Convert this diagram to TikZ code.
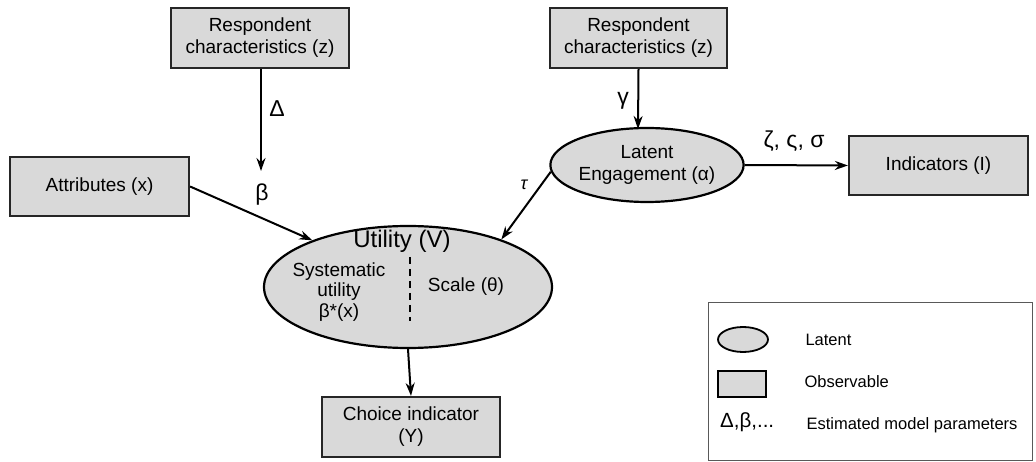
\documentclass[tikz,border=0pt]{standalone}
\usepackage{fontspec}
\setmainfont{Liberation Sans}
\usetikzlibrary{shapes.geometric,arrows.meta}
\definecolor{boxgray}{HTML}{D9D9D9}
\begin{document}
\begin{tikzpicture}[x=1pt,y=-1pt,
  obs/.style={draw=black!85,line width=2.2pt,fill=boxgray,rectangle,inner sep=0pt,align=center,font=\fontsize{19}{22}\selectfont},
  lat/.style={draw=black,line width=2.2pt,fill=boxgray,ellipse,inner sep=0pt,align=center,font=\fontsize{19}{22}\selectfont},
  conn/.style={line width=2pt,-{Stealth[length=13pt,width=9pt]}},
  param/.style={font=\fontsize{23}{26}\selectfont},
  legtext/.style={font=\fontsize{16.5}{19}\selectfont,anchor=west}]
\useasboundingbox (0,0) rectangle (1036,462);
% nodes
\node[obs,minimum width=178pt,minimum height=60pt] (rz1) at (260,38) {Respondent\\characteristics (z)};
\node[obs,minimum width=179pt,minimum height=59pt] (attr) at (99.5,186.5) {Attributes (x)};
\node[obs,minimum width=177pt,minimum height=60pt] (rz2) at (638.5,38) {Respondent\\characteristics (z)};
\node[lat,minimum width=190pt,minimum height=74pt] (eng) at (647,165) {Latent\\Engagement (α)};
\node[obs,minimum width=179pt,minimum height=59pt] (ind) at (938.5,165.5) {Indicators (I)};
\node[lat,minimum width=288pt,minimum height=122pt] (util) at (408,287) {};
\node[obs,minimum width=178pt,minimum height=60pt] (choice) at (411,427) {Choice indicator\\(Y)};
% utility internals
\node[font=\fontsize{24}{27}\selectfont] (utitle) at (402,241) {Utility (V)};
\node[align=center,font=\fontsize{19}{20.5}\selectfont] (sys) at (339,292) {Systematic\\utility\\β*(x)};
\node[font=\fontsize{19}{22}\selectfont] (scale) at (466,287) {Scale (θ)};
\coordinate (d1) at (410,257);
\coordinate (d2) at (410,321);
\draw[line width=1.8pt,dash pattern=on 7pt off 5pt] (d1) -- (d2);
% connectors
\coordinate (delend) at (261,171);
\draw[conn] (rz1.south -| delend) -- (delend);
\node[param] (del) at (277,109) {Δ};
\node[param] (bet) at (262,195) {β};
\draw[conn] (attr.east) -- (util.154);
\coordinate (gamend) at (638,129);
\draw[conn] (rz2.south) -- (gamend);
\node[param] (gam) at (623,101) {γ};
\draw[conn] (eng.east) -- (ind.west);
\node[param] (zss) at (794,141) {ζ, ς, σ};
\draw[conn] (eng.184) -- (util.27);
\node[font=\itshape\fontsize{18}{20}\selectfont] (tau) at (524,185) {τ};
\draw[conn] (util.south) -- (choice.north);
% legend
\node[draw=black!65,line width=1pt,rectangle,minimum width=324pt,minimum height=157pt,inner sep=0pt] (legend) at (870,381.5) {};
\node[draw=black,line width=1.8pt,fill=boxgray,ellipse,minimum width=50pt,minimum height=25pt,inner sep=0pt] (lege) at (743,339.5) {};
\node[draw=black,line width=2pt,fill=boxgray,rectangle,minimum width=48pt,minimum height=26pt,inner sep=0pt] (legr) at (742,384) {};
\node[legtext] (lt1) at (802,340) {Latent};
\node[legtext] (lt2) at (801,382) {Observable};
\node[font=\fontsize{20.5}{22}\selectfont,anchor=west,inner sep=0pt] (lt3sym) at (720,422) {Δ,β,...};
\node[legtext] (lt3) at (803,425) {Estimated model parameters};
\end{tikzpicture}
\end{document}
